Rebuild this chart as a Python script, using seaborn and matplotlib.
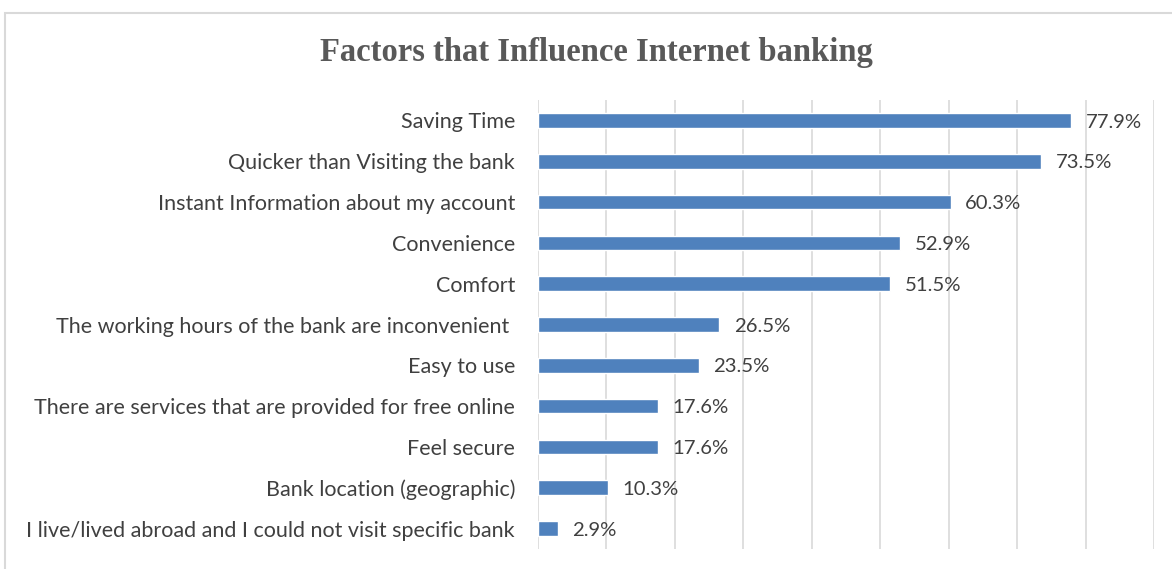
import matplotlib
matplotlib.use("Agg")
import matplotlib.pyplot as plt
import matplotlib.patches as mpatches
import seaborn as sns
import pandas as pd

factors = [
    "Saving Time",
    "Quicker than Visiting the bank",
    "Instant Information about my account",
    "Convenience",
    "Comfort",
    "The working hours of the bank are inconvenient ",
    "Easy to use",
    "There are services that are provided for free online",
    "Feel secure",
    "Bank location (geographic)",
    "I live/lived abroad and I could not visit specific bank",
]
shares = [77.9, 73.5, 60.3, 52.9, 51.5, 26.5, 23.5, 17.6, 17.6, 10.3, 2.9]
grid_ticks = [0, 10, 20, 30, 40, 50, 60, 70, 80, 90]

df = pd.DataFrame({"factor": factors, "share": shares})

sns.set_theme(style="white")
plt.rcParams["font.family"] = ["Lato", "DejaVu Sans"]

fig = plt.figure(figsize=(11.72, 5.69), dpi=100)
ax = fig.add_axes([0.459, 0.0351, 0.5256, 0.7892])

sns.barplot(data=df, x="share", y="factor", orient="h", color="#4F81BD",
            saturation=1, width=0.36, ax=ax, zorder=3)

ax.set_xlim(0, 90)
ax.set_ylim(len(factors) - 0.5, -0.5)
ax.set_xticks(grid_ticks)
ax.xaxis.grid(True, color="#D9D9D9", linewidth=1.2, zorder=0)
ax.yaxis.grid(False)
ax.tick_params(axis="x", length=0, labelbottom=False)
ax.tick_params(axis="y", length=0, labelsize=15.5, labelcolor="#404040", pad=16.5)
ax.set_xlabel("")
ax.set_ylabel("")
for s in ax.spines.values():
    s.set_visible(False)

for i, v in enumerate(shares):
    ax.text(v + 2.1, i + 0.04, f"{v:.1f}%", va="center", ha="left",
            fontsize=14.6, color="#404040")

fig.text(0.509, 0.9086, "Factors that Influence Internet banking",
         ha="center", va="center", fontsize=23.5, fontweight="bold",
         family=["Liberation Serif", "DejaVu Serif"], color="#595959")

frame = mpatches.Rectangle((5 / 1172, -0.05), 1.2, 1 - 13 / 569 + 0.05,
                           transform=fig.transFigure, fill=False,
                           edgecolor="#D9D9D9", linewidth=1.5)
fig.patches.append(frame)

fig.savefig("out.png", dpi=100)
